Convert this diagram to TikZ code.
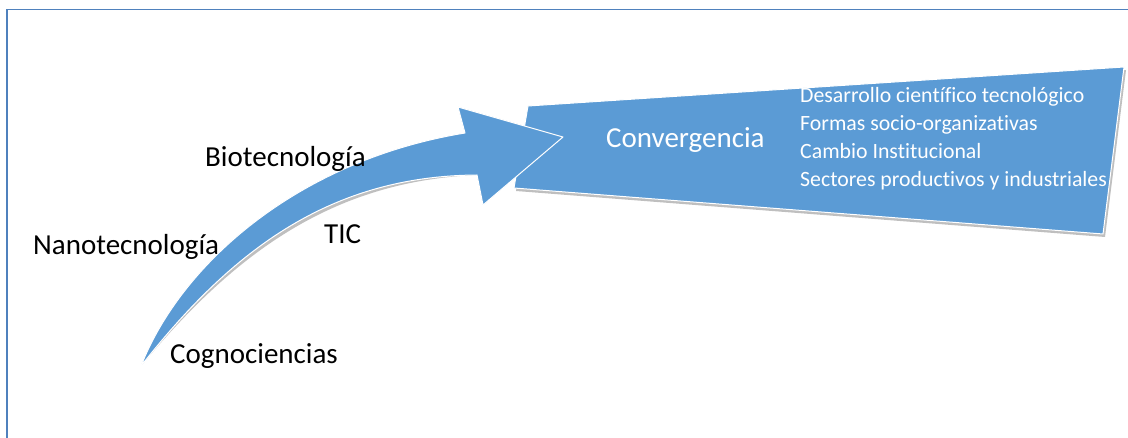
\documentclass[tikz,border=0pt]{standalone}
\usepackage{fontspec}
\setmainfont{Carlito}[Ligatures=NoCommon]
\definecolor{shapeblue}{RGB}{91,155,213}
\definecolor{framecol}{RGB}{79,129,189}
\tikzset{
  shapefill/.style={fill=shapeblue, draw=white, line width=1pt, line join=round},
  shadowfill/.style={fill=black, opacity=0.25, draw=none},
  biglabel/.style={inner sep=0pt, anchor=base west, font=\fontsize{29}{34}\selectfont},
  whitelabel/.style={inner sep=0pt, anchor=base west, text=white, font=\fontsize{29}{34}\selectfont},
  listlabel/.style={inner sep=0pt, anchor=base west, text=white, font=\fontsize{21.8}{26}\selectfont}
}
\begin{document}
\begin{tikzpicture}[x=1pt,y=-1pt]
\useasboundingbox (0,0) rectangle (1128,438);
\fill[white] (0,0) rectangle (1128,438);
% frame
\draw[framecol, line width=1.5pt] (7,438) -- (7,9.5) -- (1128,9.5);
% funnel shape
\coordinate (f1) at (528,106);
\coordinate (f2) at (1124,67);
\coordinate (f3) at (1103,234);
\coordinate (f4) at (514,188);
\fill[shadowfill] ([shift={(2,3)}]f1) -- ([shift={(2,3)}]f2) -- ([shift={(2,3)}]f3) -- ([shift={(2,3)}]f4) -- cycle;
\draw[shapefill] (f1) -- (f2) -- (f3) -- (f4) -- cycle;
% curved arrow
\coordinate (tail) at (141,366);
\coordinate (ju) at (465,133);
\coordinate (hu) at (458,107);
\coordinate (tip) at (563,137);
\coordinate (hl) at (483,205);
\coordinate (jl) at (477,175);
\begin{scope}[shift={(1,5)}]
\fill[shadowfill] (tail) .. controls (182,262) and (300,160) .. (ju) -- (hu) -- (tip) -- (hl) -- (jl) .. controls (330,176) and (232,250) .. (tail) -- cycle;
\end{scope}
\draw[shapefill] (tail) .. controls (182,262) and (300,160) .. (ju) -- (hu) -- (tip) -- (hl) -- (jl) .. controls (330,176) and (232,250) .. (tail) -- cycle;
% labels
\node[biglabel] (bio) at (205,167) {Biotecnología};
\node[biglabel] (nano) at (33,255) {Nanotecnología};
\node[biglabel] (tic) at (324,244) {TIC};
\node[biglabel] (cogn) at (170,364) {Cognociencias};
\node[whitelabel] (conv) at (606,148) {Convergencia};
\node[listlabel] (l1) at (800,103) {Desarrollo científico tecnológico};
\node[listlabel] (l2) at (800,131) {Formas socio-organizativas};
\node[listlabel] (l3) at (800,159) {Cambio Institucional};
\node[listlabel] (l4) at (800,187) {Sectores productivos y industriales};
\end{tikzpicture}
\end{document}
